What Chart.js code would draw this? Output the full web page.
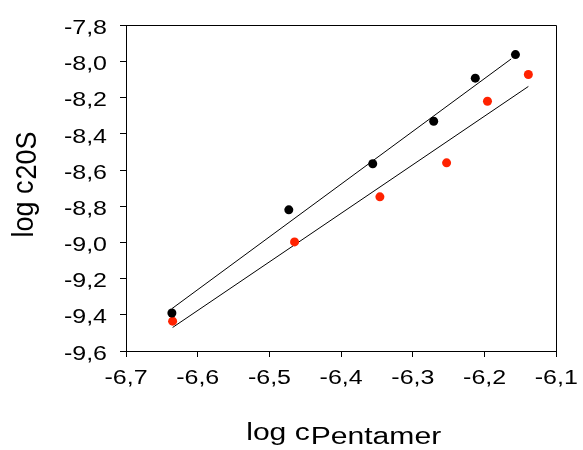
<!DOCTYPE html>
<html>
<head>
<meta charset="utf-8">
<script src="https://cdn.jsdelivr.net/npm/chart.js@4"></script>
<style>
  html, body { margin: 0; padding: 0; background: #fff; }
  #wrap { width: 583px; height: 450px; position: relative; }
</style>
</head>
<body>
<div id="wrap"><canvas id="c" width="583" height="450"></canvas></div>
<script>
// ---- data ----
const pentamerBlack = [-6.636, -6.473, -6.356, -6.271, -6.213, -6.157];
const c20sBlack     = [-9.390, -8.820, -8.565, -8.330, -8.092, -7.962];
const pentamerRed   = [-6.635, -6.465, -6.346, -6.253, -6.196, -6.139];
const c20sRed       = [-9.435, -8.997, -8.748, -8.560, -8.220, -8.072];
const fitBlackX = [-6.636, -6.163];
const fitBlackY = [-9.366, -7.986];
const fitRedX   = [-6.635, -6.139];
const fitRedY   = [-9.470, -8.138];
const xTicks = [-6.7, -6.6, -6.5, -6.4, -6.3, -6.2, -6.1];
const yTicks = [-9.6, -9.4, -9.2, -9.0, -8.8, -8.6, -8.4, -8.2, -8.0, -7.8];
const xTitleMain = 'log c', xTitleSub = 'Pentamer';
const yTitleMain = 'log c', yTitleSub = '20S';

const pts = (xs, ys) => xs.map((x, i) => ({ x: x, y: ys[i] }));
const fmt = v => (Math.round(v * 10) / 10).toFixed(1).replace('.', ',');

const FONT = '"Liberation Sans", Arial, sans-serif';
const STRETCH = 1.22;

const canvas = document.getElementById('c');
const ctx = canvas.getContext('2d');
const origFill = ctx.fillText.bind(ctx);
// the reference text is horizontally stretched
ctx.fillText = function (t, x, y) {
  ctx.save();
  ctx.translate(x, y);
  ctx.scale(STRETCH, 1);
  origFill(t, 0, 0);
  ctx.restore();
};

const frameAndTitles = {
  id: 'frameAndTitles',
  afterDatasetsDraw(chart) {
    const a = chart.chartArea;
    const c = chart.ctx;
    c.save();
    c.strokeStyle = '#000';
    c.lineWidth = 1;
    c.beginPath();
    c.moveTo(Math.round(a.left) + 0.5, Math.round(a.top) + 0.5);
    c.lineTo(Math.round(a.right) + 0.5, Math.round(a.top) + 0.5);
    c.lineTo(Math.round(a.right) + 0.5, Math.round(a.bottom) + 0.5);
    c.stroke();
    c.restore();
  },
  afterDraw(chart) {
    const a = chart.chartArea;
    const c = chart.ctx;
    c.save();
    c.fillStyle = '#000';
    c.textBaseline = 'alphabetic';
    c.textAlign = 'left';
    // x title
    const fx = 23.5, sx = 1.28;
    c.font = fx + 'px ' + FONT;
    const w1 = c.measureText(xTitleMain).width * sx;
    const w2 = c.measureText(xTitleSub).width * sx;
    let x0 = (a.left + a.right) / 2 - (w1 + w2) / 2 + 2;
    c.save(); c.translate(x0, 440); c.scale(sx, 1); origFill(xTitleMain, 0, 0); c.restore();
    c.save(); c.translate(x0 + w1 + 1, 444); c.scale(sx, 1); origFill(xTitleSub, 0, 0); c.restore();
    // y title (rotated)
    const fy = 27, sy = 1.1;
    c.font = fy + 'px ' + FONT;
    const v1 = c.measureText(yTitleMain).width;
    const v2 = c.measureText(yTitleSub).width;
    const yc = 185;
    c.save();
    c.translate(33, yc + (v1 + v2) / 2);
    c.rotate(-Math.PI / 2);
    c.scale(1, sy);
    origFill(yTitleMain, 0, 0);
    origFill(yTitleSub, v1 + 1, 3);
    c.restore();
    c.restore();
  }
};

new Chart(canvas, {
  type: 'scatter',
  data: {
    datasets: [
      { label: 'fit black', type: 'line', data: pts(fitBlackX, fitBlackY), borderColor: '#000', borderWidth: 1, pointRadius: 0, fill: false, order: 3 },
      { label: 'fit red', type: 'line', data: pts(fitRedX, fitRedY), borderColor: '#000', borderWidth: 1, pointRadius: 0, fill: false, order: 3 },
      { label: 'black', data: pts(pentamerBlack, c20sBlack), backgroundColor: '#000', borderColor: '#000', pointRadius: 4.5, borderWidth: 0, order: 1 },
      { label: 'red', data: pts(pentamerRed, c20sRed), backgroundColor: '#ff2200', borderColor: '#ff2200', pointRadius: 4.5, borderWidth: 0, order: 1 }
    ]
  },
  options: {
    responsive: false,
    animation: false,
    layout: { padding: { left: 0, right: 21, top: 23, bottom: 0 } },
    plugins: { legend: { display: false }, tooltip: { enabled: false } },
    scales: {
      x: {
        type: 'linear',
        min: xTicks[0], max: xTicks[xTicks.length - 1],
        afterBuildTicks: s => { s.ticks = xTicks.map(v => ({ value: v })); },
        afterFit: s => { s.height = 99; },
        ticks: { callback: v => fmt(v), color: '#000', font: { family: FONT, size: 20.5 }, padding: 9, maxRotation: 0, autoSkip: false },
        grid: { drawOnChartArea: false, tickLength: 6, color: '#000', tickColor: '#000' },
        border: { display: true, color: '#000', width: 1 }
      },
      y: {
        type: 'linear',
        min: yTicks[0], max: yTicks[yTicks.length - 1],
        afterBuildTicks: s => { s.ticks = yTicks.map(v => ({ value: v })); },
        afterFit: s => { s.width = 126; },
        ticks: { callback: v => fmt(v), color: '#000', font: { family: FONT, size: 20.5 }, padding: 13, labelOffset: 3, autoSkip: false },
        grid: { drawOnChartArea: false, tickLength: 6, color: '#000', tickColor: '#000' },
        border: { display: true, color: '#000', width: 1 }
      }
    }
  },
  plugins: [frameAndTitles]
});
</script>
</body>
</html>
